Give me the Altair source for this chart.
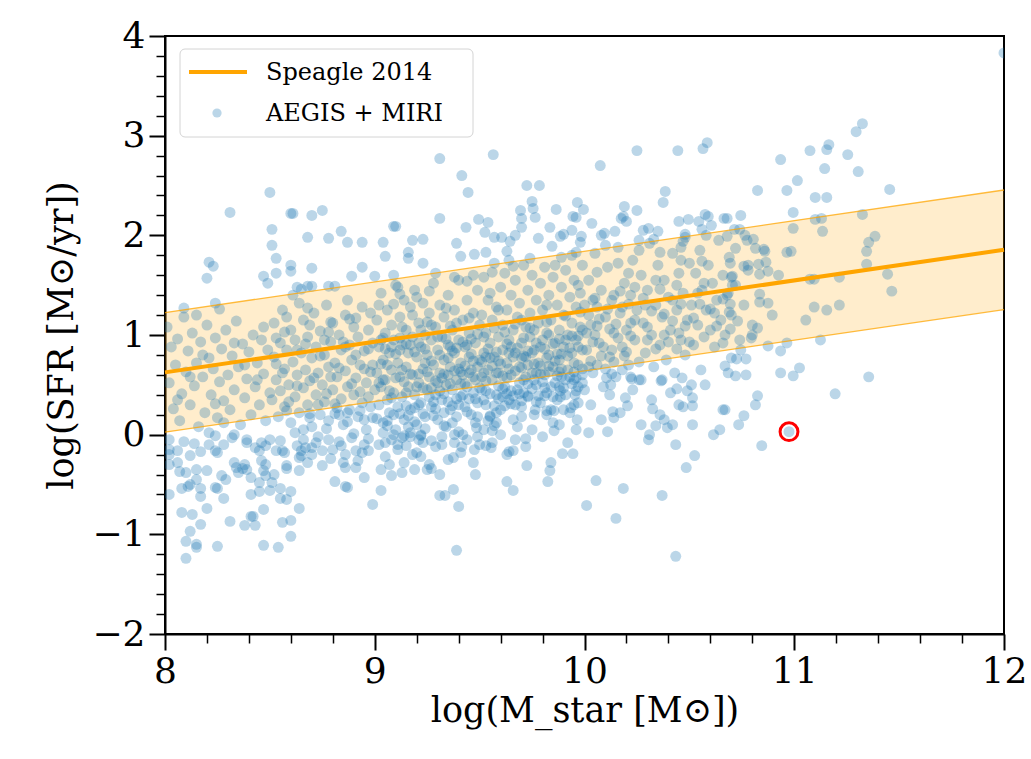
import altair as alt
import pandas as pd

# ---------------- Speagle et al. 2014 main sequence (values at log M* = 8 and 12)
speagle_mstar = [8.0, 12.0]
speagle_sfr = [0.625, 1.855]
speagle_low = [0.025, 1.255]
speagle_high = [1.225, 2.455]

# ---------------- AEGIS + MIRI galaxies (log M*, log SFR)
band_8_85 = [
    (8.01, 1.08), (8.02, 0.52), (8.03, 0.88), (8.04, 0.26), (8.05, 0.70), (8.06, 0.96), (8.07, 0.14), (8.08, 0.41),
    (8.09, 1.18), (8.10, 0.63), (8.11, 0.84), (8.12, 0.30), (8.13, 1.02), (8.14, 0.49), (8.15, 0.72), (8.16, 0.08),
    (8.17, 0.93), (8.18, 0.58), (8.19, 0.22), (8.20, 1.10), (8.21, 0.77), (8.22, 0.40), (8.23, 0.66), (8.24, 0.97),
    (8.25, 0.17), (8.26, 0.53), (8.27, 0.86), (8.28, 0.34), (8.29, 1.05), (8.30, 0.60), (8.31, 0.25), (8.32, 0.79),
    (8.33, 0.45), (8.34, 1.14), (8.35, 0.68), (8.36, 0.10), (8.37, 0.91), (8.38, 0.37), (8.39, 0.56), (8.40, 0.83),
    (8.41, 0.20), (8.42, 1.00), (8.43, 0.48), (8.44, 0.72), (8.45, 0.30), (8.46, 0.95), (8.47, 0.61), (8.48, 0.14),
    (8.49, 0.85), (8.50, 0.42), (8.12, 0.58), (8.24, 0.31), (8.33, 0.92), (8.44, 0.55), (8.06, 0.35), (8.18, 0.80),
    (8.28, 0.12), (8.38, 0.70), (8.47, 1.08), (8.15, 1.20),
]
band_85_9 = [
    (8.51, 0.35), (8.52, 0.78), (8.52, 1.12), (8.53, 0.55), (8.54, 0.18), (8.55, 0.92), (8.55, 0.44), (8.56, 1.25),
    (8.57, 0.66), (8.57, 0.28), (8.58, 0.85), (8.59, 0.50), (8.60, 1.05), (8.60, 0.12), (8.61, 0.73), (8.62, 0.38),
    (8.62, 0.95), (8.63, 0.60), (8.64, 1.32), (8.64, 0.22), (8.65, 0.82), (8.66, 0.47), (8.66, 1.15), (8.67, 0.65),
    (8.68, 0.30), (8.68, 0.98), (8.69, 0.54), (8.70, 0.08), (8.70, 0.77), (8.71, 1.22), (8.72, 0.40), (8.72, 0.88),
    (8.73, 0.62), (8.74, 0.20), (8.74, 1.04), (8.75, 0.50), (8.76, 0.80), (8.76, 0.33), (8.77, 1.30), (8.78, 0.68),
    (8.78, 0.14), (8.79, 0.93), (8.80, 0.45), (8.80, 1.12), (8.81, 0.72), (8.82, 0.27), (8.82, 0.58), (8.83, 1.00),
    (8.84, 0.36), (8.84, 0.85), (8.85, 0.10), (8.86, 0.64), (8.86, 1.20), (8.87, 0.48), (8.88, 0.90), (8.88, 0.25),
    (8.89, 0.75), (8.90, 1.08), (8.90, 0.40), (8.91, 0.57), (8.92, 0.18), (8.92, 0.98), (8.93, 0.70), (8.94, 1.28),
    (8.94, 0.32), (8.95, 0.84), (8.96, 0.52), (8.96, 0.05), (8.97, 1.05), (8.98, 0.63), (8.98, 0.28), (8.99, 0.92),
    (9.00, 0.45), (8.53, 0.97), (8.58, 0.24), (8.63, 0.85), (8.69, 1.10), (8.73, 0.30), (8.79, 0.58), (8.83, 0.20),
    (8.87, 1.35), (8.91, 0.80), (8.95, 0.15), (8.99, 0.70), (8.56, 0.62), (8.66, 0.05), (8.76, 0.95), (8.86, 0.88),
    (8.97, 0.38), (8.61, 1.40),
]
band_9_95 = [
    (9.01, 0.62), (9.01, 1.15), (9.02, 0.30), (9.02, 0.88), (9.03, 1.42), (9.03, 0.48), (9.04, 0.75), (9.04, 0.12),
    (9.05, 1.02), (9.05, 0.55), (9.06, 0.35), (9.06, 1.25), (9.07, 0.82), (9.07, 0.22), (9.08, 0.65), (9.08, 1.10),
    (9.09, 0.42), (9.09, 0.95), (9.10, 1.50), (9.10, 0.05), (9.11, 0.72), (9.11, 0.28), (9.12, 1.18), (9.12, 0.58),
    (9.13, 0.90), (9.13, 0.38), (9.14, 1.35), (9.14, 0.15), (9.15, 0.68), (9.15, 1.05), (9.16, 0.48), (9.16, 0.82),
    (9.17, 1.28), (9.17, 0.25), (9.18, 0.60), (9.18, 0.98), (9.19, 0.40), (9.19, 1.45), (9.20, 0.78), (9.20, 0.10),
    (9.21, 1.12), (9.21, 0.52), (9.22, 0.88), (9.22, 0.32), (9.23, 1.32), (9.23, 0.66), (9.24, 0.18), (9.24, 1.00),
    (9.25, 0.45), (9.25, 0.80), (9.26, 1.22), (9.26, 0.58), (9.27, 0.28), (9.27, 0.95), (9.28, 1.52), (9.28, 0.70),
    (9.29, 0.40), (9.29, 1.08), (9.30, 0.85), (9.30, 0.15), (9.31, 0.62), (9.31, 1.30), (9.32, 0.35), (9.32, 0.98),
    (9.33, 0.75), (9.33, 1.18), (9.34, 0.50), (9.34, 0.08), (9.35, 0.90), (9.35, 1.40), (9.36, 0.25), (9.36, 0.68),
    (9.37, 1.05), (9.37, 0.45), (9.38, 0.82), (9.38, 1.25), (9.39, 0.55), (9.39, 0.18), (9.40, 0.95), (9.40, 1.55),
    (9.41, 0.38), (9.41, 0.72), (9.42, 1.15), (9.42, 0.60), (9.43, 0.28), (9.43, 0.88), (9.44, 1.35), (9.44, 0.48),
    (9.45, 0.78), (9.45, 1.02), (9.46, 0.20), (9.46, 0.65), (9.47, 1.22), (9.47, 0.42), (9.48, 0.92), (9.48, 0.55),
    (9.49, 1.45), (9.49, 0.32), (9.50, 0.75), (9.50, 1.10), (9.03, 0.95), (9.06, 0.70), (9.09, 0.20), (9.12, 0.85),
    (9.15, 0.42), (9.18, 1.20), (9.21, 0.30), (9.24, 0.72), (9.27, 1.10), (9.30, 0.52), (9.33, 0.22), (9.36, 0.88),
    (9.39, 1.12), (9.42, 0.40), (9.45, 0.62), (9.48, 0.12), (9.04, 0.55), (9.08, 0.88), (9.13, 0.65), (9.17, 0.90),
    (9.22, 1.05), (9.26, 0.38), (9.31, 0.80), (9.35, 0.60), (9.40, 0.30), (9.44, 0.90), (9.49, 0.68), (9.02, 1.30),
    (9.11, 1.48), (9.20, 1.38), (9.29, 1.62), (9.38, 1.58), (9.47, 1.60),
]
below_9_95 = [
    (9.02, -0.10), (9.05, -0.22), (9.08, -0.05), (9.11, -0.15), (9.14, -0.28), (9.17, -0.02), (9.20, -0.18),
    (9.23, -0.08), (9.26, -0.30), (9.29, -0.12), (9.32, -0.02), (9.35, -0.25), (9.38, -0.08), (9.41, -0.18),
    (9.44, -0.05), (9.47, -0.28), (9.50, -0.10), (9.04, 0.02), (9.13, -0.38), (9.22, 0.00), (9.31, -0.40),
    (9.40, 0.03), (9.48, -0.40),
]
band_95_10 = [
    (9.51, 0.45), (9.51, 1.20), (9.52, 0.82), (9.52, 1.58), (9.53, 0.30), (9.53, 1.02), (9.54, 0.65), (9.54, 1.35),
    (9.55, 0.92), (9.55, 0.18), (9.56, 1.15), (9.56, 0.55), (9.57, 1.72), (9.57, 0.78), (9.58, 0.40), (9.58, 1.28),
    (9.59, 0.98), (9.59, 0.62), (9.60, 1.48), (9.60, 0.25), (9.61, 0.85), (9.61, 1.10), (9.62, 0.48), (9.62, 1.62),
    (9.63, 0.72), (9.63, 1.25), (9.64, 0.35), (9.64, 0.95), (9.65, 1.40), (9.65, 0.60), (9.66, 1.05), (9.66, 0.15),
    (9.67, 0.82), (9.67, 1.55), (9.68, 0.45), (9.68, 1.18), (9.69, 0.68), (9.69, 1.32), (9.70, 0.92), (9.70, 0.28),
    (9.71, 1.70), (9.71, 0.55), (9.72, 1.08), (9.72, 0.78), (9.73, 1.45), (9.73, 0.38), (9.74, 0.98), (9.74, 1.22),
    (9.75, 0.62), (9.75, 1.60), (9.76, 0.20), (9.76, 0.85), (9.77, 1.35), (9.77, 0.50), (9.78, 1.12), (9.78, 0.72),
    (9.79, 1.52), (9.79, 0.32), (9.80, 0.95), (9.80, 1.25), (9.81, 0.60), (9.81, 1.68), (9.82, 0.42), (9.82, 1.02),
    (9.83, 0.80), (9.83, 1.40), (9.84, 0.25), (9.84, 1.15), (9.85, 0.68), (9.85, 1.58), (9.86, 0.52), (9.86, 0.92),
    (9.87, 1.30), (9.87, 0.35), (9.88, 1.05), (9.88, 0.75), (9.89, 1.48), (9.89, 0.58), (9.90, 1.20), (9.90, 0.88),
    (9.91, 0.40), (9.91, 1.65), (9.92, 1.00), (9.92, 0.65), (9.93, 1.38), (9.93, 0.22), (9.94, 0.82), (9.94, 1.12),
    (9.95, 0.55), (9.95, 1.55), (9.96, 0.95), (9.96, 1.28), (9.97, 0.70), (9.97, 0.32), (9.98, 1.42), (9.98, 1.08),
    (9.99, 0.60), (9.99, 0.85), (10.00, 1.30), (10.00, 0.45), (9.52, 0.62), (9.55, 1.42), (9.58, 0.12), (9.61, 0.38),
    (9.64, 1.75), (9.67, 0.30), (9.70, 1.15), (9.73, 0.70), (9.76, 1.05), (9.79, 0.88), (9.82, 1.30), (9.85, 0.12),
    (9.88, 0.48), (9.91, 0.95), (9.94, 1.80), (9.97, 1.50), (9.53, 0.78), (9.59, 1.25), (9.65, 0.88), (9.71, 0.42),
    (9.77, 0.62), (9.83, 1.00), (9.89, 1.78), (9.95, 0.30), (9.99, 1.70),
]
core_extra = [
    (9.03, 0.71), (9.07, 0.44), (9.09, 1.31), (9.12, 0.97), (9.14, 0.53), (9.16, 0.19), (9.19, 0.83), (9.21, 0.61),
    (9.23, 0.47), (9.25, 1.13), (9.27, 0.74), (9.28, 0.33), (9.30, 0.98), (9.32, 0.57), (9.33, 0.41), (9.35, 0.77),
    (9.36, 1.09), (9.37, 0.29), (9.38, 0.64), (9.39, 0.87), (9.41, 0.51), (9.42, 0.93), (9.43, 0.69), (9.44, 0.23),
    (9.45, 1.17), (9.46, 0.81), (9.47, 0.58), (9.48, 0.36), (9.49, 1.01), (9.50, 0.47), (9.51, 0.73), (9.52, 0.98),
    (9.53, 0.54), (9.54, 0.86), (9.55, 0.41), (9.56, 0.69), (9.57, 1.07), (9.58, 0.83), (9.59, 0.49), (9.60, 0.71),
    (9.61, 0.59), (9.62, 1.03), (9.63, 0.91), (9.64, 0.66), (9.65, 0.44), (9.66, 0.78), (9.67, 1.11), (9.68, 0.87),
    (9.69, 0.52), (9.70, 0.67), (9.71, 0.97), (9.72, 0.58), (9.73, 0.84), (9.74, 1.07), (9.75, 0.46), (9.76, 0.71),
    (9.77, 0.92), (9.78, 0.39), (9.79, 0.69), (9.80, 0.53), (9.81, 0.86), (9.82, 1.13), (9.83, 0.63), (9.84, 0.48),
    (9.85, 0.91), (9.86, 0.74), (9.87, 0.59), (9.88, 0.96), (9.89, 0.81), (9.90, 0.47), (9.91, 1.19), (9.92, 0.79),
    (9.93, 0.58), (9.94, 0.99), (9.95, 0.72), (9.96, 0.44), (9.97, 0.88), (9.98, 1.23), (9.99, 0.66), (10.01, 1.02),
    (10.03, 0.74), (10.05, 1.37), (10.07, 1.16), (10.09, 0.88), (10.11, 1.26), (10.13, 0.61), (10.15, 1.11),
    (10.17, 1.44), (10.19, 0.79), (10.21, 1.31), (9.05, 0.86), (9.10, 0.57), (9.15, 0.91), (9.20, 0.48), (9.24, 0.86),
    (9.29, 0.54), (9.34, 0.96), (9.40, 0.66), (9.46, 0.96), (9.52, 0.35), (9.58, 0.62), (9.64, 0.82), (9.70, 0.77),
    (9.76, 0.55), (9.82, 0.77), (9.88, 0.63), (9.94, 0.51), (9.99, 1.05), (9.36, 0.51), (9.62, 0.29),
]
band_fill = [
    (8.53, 0.71), (8.57, 1.03), (8.59, 0.33), (8.63, 0.49), (8.67, 0.91), (8.69, 0.21), (8.71, 0.57), (8.74, 0.79),
    (8.77, 0.41), (8.79, 1.13), (8.81, 0.31), (8.83, 0.67), (8.85, 0.93), (8.87, 0.22), (8.89, 0.51), (8.91, 1.17),
    (8.93, 0.43), (8.95, 0.66), (8.97, 0.86), (8.99, 0.17), (9.02, 0.52), (9.04, 0.97), (9.06, 0.14), (9.08, 0.37),
    (9.10, 0.81), (9.13, 1.08), (9.15, 0.29), (9.17, 0.61), (9.19, 0.13), (9.21, 0.92), (9.23, 0.21), (9.25, 0.63),
    (9.27, 0.47), (9.29, 0.26), (9.31, 0.44), (9.33, 0.61), (9.35, 0.33), (9.37, 0.84), (9.39, 0.36), (9.41, 0.63),
    (9.43, 0.51), (9.45, 0.36), (9.47, 0.74), (9.49, 0.18), (9.51, 0.58), (9.53, 0.44), (9.55, 0.77), (9.57, 0.29),
    (9.59, 0.74), (9.61, 0.46), (9.63, 0.57), (9.65, 0.31), (9.67, 0.64), (9.69, 0.41), (9.71, 0.79), (9.73, 0.51),
    (9.75, 0.82), (9.77, 0.33), (9.79, 0.61), (9.81, 0.47), (9.83, 0.69), (9.85, 0.38), (9.87, 0.81), (9.89, 0.66),
    (9.91, 0.55), (9.93, 0.87), (9.95, 0.63), (9.97, 0.99), (9.99, 0.52), (10.02, 0.68), (10.04, 0.93), (10.06, 1.09),
    (10.08, 0.79), (10.10, 0.66), (10.12, 1.06), (10.14, 0.73), (10.16, 0.97), (10.18, 1.28), (10.20, 0.83),
    (10.22, 0.99), (10.24, 1.15), (10.26, 0.73), (10.28, 1.37), (10.30, 1.08), (10.32, 1.24), (10.34, 0.86),
    (10.36, 1.46), (10.38, 1.21), (10.40, 0.93), (10.42, 1.14), (10.44, 0.86), (10.46, 1.31), (10.48, 1.09),
    (10.50, 0.93), (10.52, 1.17), (10.55, 1.31), (10.57, 1.52), (10.60, 1.26), (10.63, 1.09), (10.66, 1.36),
    (9.12, 1.41), (9.26, 1.44), (9.34, 1.27), (9.44, 1.54), (9.56, 1.63), (9.66, 1.69), (9.74, 1.77), (9.86, 1.70),
    (9.96, 1.83), (10.06, 1.63), (10.16, 1.72), (10.26, 1.95), (10.36, 1.83), (10.46, 1.88), (10.56, 1.74),
    (8.58, 1.18), (8.68, 1.27), (8.78, 1.03), (8.88, 1.16), (8.98, 1.22),
]
below_95_10 = [
    (9.52, 0.05), (9.56, -0.08), (9.60, 0.00), (9.63, -0.20), (9.68, 0.08), (9.72, -0.12), (9.75, 0.05),
    (9.80, -0.02), (9.84, -0.28), (9.88, 0.10), (9.92, -0.08), (9.96, 0.05), (9.58, 0.22), (9.70, 0.18),
    (9.82, 0.20), (9.90, 0.25),
]
below_86_94 = [
    (8.62, 0.02), (8.66, -0.05), (8.69, 0.17), (8.73, -0.02), (8.77, 0.06), (8.81, 0.21), (8.83, -0.07),
    (8.87, 0.13), (8.90, 0.01), (8.93, 0.24), (8.97, -0.04), (9.01, 0.16), (9.06, 0.09), (9.12, 0.21), (9.16, 0.08),
    (9.19, 0.27), (9.24, 0.06), (9.28, 0.19), (9.33, 0.09), (9.37, 0.12), (8.68, -0.28), (8.79, -0.24),
    (8.92, -0.26), (9.07, -0.30), (9.19, -0.35),
]
band_10_105 = [
    (10.01, 0.85), (10.02, 1.55), (10.03, 1.10), (10.04, 0.62), (10.05, 1.82), (10.06, 1.28), (10.07, 0.92),
    (10.08, 1.45), (10.09, 0.48), (10.10, 1.18), (10.11, 1.68), (10.12, 0.78), (10.13, 1.35), (10.14, 1.02),
    (10.15, 0.58), (10.16, 1.88), (10.17, 1.22), (10.18, 0.88), (10.19, 1.52), (10.20, 1.05), (10.21, 0.70),
    (10.22, 1.40), (10.23, 1.75), (10.24, 0.95), (10.25, 1.25), (10.26, 0.55), (10.27, 1.60), (10.28, 1.12),
    (10.29, 0.82), (10.30, 1.45), (10.31, 1.92), (10.32, 1.00), (10.33, 0.68), (10.34, 1.30), (10.35, 1.70),
    (10.36, 0.90), (10.37, 1.18), (10.38, 1.55), (10.39, 0.75), (10.40, 1.38), (10.41, 1.05), (10.42, 1.82),
    (10.43, 0.62), (10.44, 1.25), (10.45, 1.62), (10.46, 0.95), (10.47, 1.42), (10.48, 0.80), (10.49, 1.15),
    (10.50, 1.72), (10.02, 1.20), (10.06, 0.70), (10.10, 1.90), (10.14, 1.40), (10.18, 0.65), (10.22, 1.12),
    (10.26, 1.85), (10.30, 0.95), (10.34, 1.55), (10.38, 1.00), (10.42, 1.35), (10.46, 1.75), (10.05, 1.00),
    (10.13, 0.85), (10.21, 1.62), (10.29, 1.30), (10.37, 0.55), (10.45, 1.02), (10.04, 1.35), (10.24, 1.48),
    (10.44, 1.50), (10.08, 2.00), (10.28, 2.05), (10.48, 1.98),
]
below_10_105 = [
    (10.03, 0.30), (10.08, 0.15), (10.12, 0.40), (10.17, 0.22), (10.23, 0.45), (10.27, 0.10), (10.32, 0.35),
    (10.36, 0.20), (10.41, 0.42), (10.47, 0.28),
]
band_105_108 = [
    (10.51, 1.30), (10.52, 0.90), (10.53, 1.62), (10.54, 1.10), (10.55, 1.85), (10.56, 1.45), (10.57, 0.98),
    (10.58, 1.25), (10.59, 1.70), (10.60, 1.05), (10.61, 1.52), (10.62, 0.88), (10.63, 1.35), (10.64, 1.95),
    (10.65, 1.15), (10.66, 1.60), (10.67, 1.00), (10.68, 1.40), (10.69, 1.78), (10.70, 1.20), (10.72, 1.50),
    (10.74, 0.95), (10.76, 1.30), (10.78, 1.65), (10.80, 1.10), (10.54, 1.42), (10.58, 2.00), (10.62, 1.22),
    (10.66, 0.92), (10.70, 1.58),
]
above_low_mass = [
    (9.31, 2.77), (8.50, 2.43), (8.31, 2.23), (8.60, 2.22), (8.61, 2.22), (8.70, 2.20), (8.75, 2.25), (8.51, 2.06),
    (8.84, 2.04), (9.09, 2.09), (9.10, 2.09), (9.31, 2.17), (8.68, 1.98), (8.78, 1.97), (8.87, 1.93), (8.94, 1.93),
    (9.04, 1.93), (9.18, 1.95), (9.23, 1.96), (8.51, 1.90), (9.05, 1.79), (8.53, 1.77), (9.16, 1.83), (9.16, 1.77),
    (9.23, 1.72), (8.21, 1.73), (8.23, 1.69), (8.20, 1.57), (8.47, 1.59), (8.49, 1.52), (8.53, 1.62), (8.60, 1.70),
    (8.60, 1.64), (8.70, 1.67), (8.94, 1.68), (8.89, 1.59), (9.00, 1.59), (9.09, 1.60), (8.63, 1.48), (8.65, 1.46),
    (8.68, 1.49), (8.70, 1.49), (8.78, 1.49), (8.81, 1.49), (8.09, 1.27), (8.24, 1.32), (8.26, 1.26),
]
above_mid_mass = [
    (10.25, 2.85), (10.445, 2.85), (10.565, 2.87), (10.585, 2.93), (9.565, 2.81), (10.075, 2.70), (9.415, 2.60),
    (9.445, 2.43), (9.725, 2.50), (9.785, 2.50), (10.385, 2.44), (10.375, 2.33), (9.75, 2.34), (9.755, 2.27),
    (9.695, 2.25), (9.765, 2.18), (9.70, 2.17), (9.70, 2.08), (9.865, 2.26), (9.966, 2.33), (9.995, 2.26),
    (9.945, 2.19), (9.96, 2.18), (10.19, 2.29), (10.25, 2.25), (10.185, 2.19), (10.20, 2.14), (10.175, 2.17),
    (9.495, 2.16), (9.54, 2.13), (9.435, 2.08), (9.525, 2.03), (9.57, 1.98), (9.605, 1.98), (9.645, 1.94),
    (9.67, 2.00), (9.63, 1.84), (9.835, 2.08), (9.78, 1.97), (9.845, 1.89), (9.90, 2.01), (9.885, 1.99),
    (9.94, 2.05), (9.985, 1.99), (9.98, 1.93), (10.035, 2.12), (10.095, 2.02), (10.145, 2.04), (10.305, 2.07),
    (10.35, 2.04), (10.33, 1.96), (10.45, 2.14), (10.495, 2.16), (10.545, 2.14), (10.575, 2.21), (10.59, 2.19),
    (10.605, 2.10), (10.665, 2.17), (10.48, 2.01), (10.47, 1.94), (10.56, 2.06), (9.39, 1.92), (9.41, 1.79),
    (9.475, 1.81), (9.53, 1.83),
]
high_mass = [
    (12.0, 3.83), (11.325, 3.12), (11.295, 3.04), (11.165, 2.91), (11.155, 2.86), (11.075, 2.85), (11.255, 2.81),
    (10.935, 2.76), (11.145, 2.67), (11.305, 2.64), (11.015, 2.55), (10.825, 2.45), (10.965, 2.45), (11.10, 2.38),
    (11.155, 2.38), (11.455, 2.46), (10.995, 2.23), (10.68, 2.17), (10.745, 2.20), (11.10, 2.16), (11.13, 2.17),
    (11.325, 2.21), (10.995, 2.07), (11.135, 2.04), (11.385, 1.99), (11.355, 1.93), (11.345, 1.84), (11.345, 1.71),
    (11.445, 1.61), (11.465, 1.44), (10.965, 1.83), (10.985, 1.84), (11.075, 1.56), (11.095, 1.56), (11.215, 1.58),
    (11.095, 1.28), (11.155, 1.25), (11.215, 1.30), (11.055, 1.15), (10.895, 1.20), (10.825, 1.07), (10.925, 1.60),
    (10.83, 1.71), (10.835, 1.61), (10.865, 1.73), (10.875, 1.64), (10.835, 1.41), (10.835, 1.33), (10.875, 1.32),
    (10.715, 2.06), (10.74, 2.06), (10.765, 2.00), (10.775, 1.95), (10.805, 1.96), (10.815, 1.87), (10.855, 1.86),
    (10.86, 1.84), (10.72, 1.87), (10.695, 1.72), (10.76, 1.69), (10.78, 1.70), (10.705, 1.59), (10.705, 1.50),
    (10.685, 1.42), (10.695, 1.31), (10.69, 1.23), (10.73, 1.14), (10.695, 1.06), (10.80, 1.00), (10.68, 1.99),
]
below_low_mass = [
    (8.10, -1.24), (8.10, -1.07), (8.15, -1.10), (8.15, -1.13), (8.12, -0.97), (8.17, -0.90), (8.08, -0.78),
    (8.13, -0.80), (8.20, -0.74), (8.25, -1.12), (8.31, -0.87), (8.38, -0.91), (8.41, -0.82), (8.43, -0.91),
    (8.42, -0.82), (8.47, -0.75), (8.47, -1.11), (8.54, -1.13), (8.56, -0.88), (8.60, -0.86), (8.60, -1.02),
    (8.64, -0.74), (8.02, -0.60), (8.08, -0.54), (8.11, -0.52), (8.17, -0.62), (8.17, -0.54), (8.24, -0.53),
    (8.25, -0.54), (8.28, -0.64), (8.41, -0.60), (8.45, -0.57), (8.50, -0.56), (8.51, -0.48), (8.55, -0.54),
    (8.55, -0.64), (8.58, -0.65), (8.60, -0.57), (8.15, -0.45), (8.12, -0.50), (8.07, -0.37), (8.10, -0.38),
    (8.02, -0.30), (8.06, -0.28), (8.15, -0.35), (8.20, -0.36), (8.29, -0.45), (8.27, -0.41), (8.33, -0.28),
    (8.34, -0.33), (8.37, -0.34), (8.39, -0.35), (8.35, -0.38), (8.38, -0.30), (8.41, -0.43), (8.45, -0.48),
    (8.47, -0.36), (8.48, -0.41), (8.52, -0.40), (8.46, -0.26), (8.48, -0.30), (8.58, -0.31), (8.58, -0.34),
    (8.64, -0.36), (8.75, -0.31), (8.81, -0.47), (8.86, -0.52), (8.87, -0.53), (8.64, -0.23), (8.65, -0.21),
    (8.70, -0.20), (8.85, -0.28), (8.86, -0.33), (8.91, -0.33), (8.94, -0.18), (8.95, -0.43), (8.99, -0.70),
    (9.03, -0.56), (9.03, -0.35), (9.08, -0.41), (9.18, -0.20), (9.22, -0.22), (9.25, -0.35), (9.27, -0.34),
    (9.31, -0.61), (8.02, -0.15), (8.06, -0.16), (8.02, -0.20), (8.02, -0.05), (8.09, -0.07), (8.14, -0.09),
    (8.12, -0.21), (8.17, -0.17), (8.21, -0.10), (8.24, -0.16), (8.25, -0.18), (8.28, -0.10), (8.21, 0.02),
    (8.24, -0.01), (8.32, -0.03), (8.33, 0.00), (8.39, -0.08), (8.43, -0.13), (8.39, -0.05), (8.45, -0.16),
    (8.46, -0.08), (8.48, -0.11), (8.50, -0.05), (8.53, -0.16), (8.56, -0.16), (8.57, -0.18), (8.55, -0.06),
    (8.63, -0.11), (8.65, -0.16), (8.67, -0.13), (8.70, -0.13), (8.72, -0.08), (8.75, -0.16), (8.78, -0.05),
    (8.80, -0.15), (8.84, -0.11), (8.86, -0.20), (8.89, -0.03), (8.91, -0.16), (8.95, -0.10), (8.97, -0.16),
    (9.05, -0.08), (9.09, 0.00), (9.11, -0.10), (9.13, -0.03), (9.14, -0.01), (9.17, 0.02), (9.15, -0.11),
    (9.21, -0.05), (9.22, -0.01), (9.27, -0.06), (9.32, -0.10),
]
below_mid_mass = [
    (9.39, -1.16), (10.435, -1.22), (10.15, -0.84), (10.01, -0.71), (10.37, -0.61), (9.40, -0.72), (9.375, -0.55),
    (9.63, -0.47), (9.66, -0.56), (9.825, -0.47), (9.835, -0.36), (10.055, -0.46), (10.185, -0.54), (9.725, -0.31),
    (10.485, -0.33), (10.525, -0.21), (9.895, -0.19), (9.945, -0.19), (9.64, -0.17), (9.66, -0.16), (9.375, -0.23),
    (9.335, -0.61), (9.415, -0.12), (9.475, -0.15), (9.53, -0.11), (9.555, -0.13), (9.67, -0.05), (9.72, -0.04),
    (9.855, 0.04), (10.02, 0.02), (10.11, 0.03), (10.305, -0.05), (10.31, 0.00), (10.34, 0.09), (10.38, 0.15),
    (10.395, 0.07), (10.42, 0.10), (10.435, -0.10), (10.515, 0.10), (10.615, 0.00), (10.645, 0.05), (10.66, 0.25),
    (9.49, -0.02), (9.42, 0.00), (9.38, 0.00), (9.485, 0.07), (9.56, 0.04), (9.57, 0.09), (9.54, 0.14), (9.55, 0.19),
    (9.855, 0.24), (9.82, 0.24), (9.935, 0.27), (9.965, 0.15), (10.135, 0.23), (10.14, 0.17), (10.205, 0.29),
    (10.195, 0.37), (10.325, 0.26), (10.45, 0.30), (10.515, 0.29), (10.515, 0.37), (10.49, 0.44), (10.44, 0.46),
    (10.465, 0.57), (10.51, 0.50), (10.575, 0.50), (10.555, 0.65), (10.27, 0.55), (10.365, 0.54), (10.22, 0.58),
    (10.225, 0.56), (10.125, 0.50), (10.105, 0.57), (9.96, 0.57), (9.97, 0.48), (9.955, 0.40), (9.885, 0.44),
    (9.885, 0.38), (9.81, 0.39), (9.765, 0.25), (9.73, 0.39), (9.70, 0.34), (9.66, 0.39), (9.63, 0.41), (9.59, 0.36),
]
below_high_mass = [
    (10.975, 0.03), (10.845, -0.11), (10.735, 0.10), (10.76, 0.19), (10.815, 0.30), (10.825, 0.39), (10.67, 0.25),
    (11.195, 0.41), (11.355, 0.58), (10.935, 0.62), (10.995, 0.59), (11.025, 0.67), (10.77, 0.60), (10.72, 0.59),
    (10.685, 0.62), (10.70, 0.77), (10.725, 0.76), (10.77, 0.76), (10.67, 0.69), (10.745, 0.85), (10.875, 0.89),
    (10.935, 0.84), (10.965, 0.92), (11.125, 0.95), (10.795, 0.97),
]

# highlighted galaxy (red ring)
highlight_mstar = [10.975]
highlight_sfr = [0.03]

legend_labels = ["Speagle 2014", "AEGIS + MIRI"]

# ---------------- tables
groups = [band_8_85, band_85_9, band_9_95, below_9_95, band_95_10, core_extra, band_fill, below_95_10,
          below_86_94, band_10_105, below_10_105, band_105_108, above_low_mass, above_mid_mass, high_mass,
          below_low_mass, below_mid_mass, below_high_mass]
points = pd.DataFrame([p for g in groups for p in g], columns=["mstar", "sfr"])
speagle = pd.DataFrame({"mstar": speagle_mstar, "mid": speagle_sfr,
                        "low": speagle_low, "high": speagle_high})
highlight = pd.DataFrame({"mstar": highlight_mstar, "sfr": highlight_sfr})

FONT = "DejaVu Serif"
ORANGE = "#ffa500"
BLUE = "#1f77b4"

x_ticks = [round(8 + 0.2 * i, 1) for i in range(21)]
y_ticks = [round(-2 + 0.2 * i, 1) for i in range(31)]
major = "abs(datum.value - round(datum.value)) < 0.01"


def make_axis(title, values, title_pad):
    return alt.Axis(
        title=title, values=values, tickCount=200,
        labelExpr=f"{major} ? format(datum.value, 'd') : ''",
        tickSize={"condition": {"test": major, "value": 16}, "value": 9},
        tickWidth={"condition": {"test": major, "value": 2}, "value": 1.5},
        tickColor="black", domainColor="black", domainWidth=2, grid=False,
        labelFont=FONT, labelFontSize=36, labelColor="black", labelPadding=4,
        labelOverlap=False, labelFlush=False,
        titleFont=FONT, titleFontSize=35, titleFontWeight="normal", titleColor="black",
        titlePadding=title_pad,
    )


x_enc = alt.X("mstar:Q", scale=alt.Scale(domain=[8, 12], nice=False, zero=False),
              axis=make_axis("log(M_star [M\u2299])", x_ticks, 4))
y_scale = alt.Scale(domain=[-2, 4], nice=False, zero=False)

band = alt.Chart(speagle).mark_area(color=ORANGE, opacity=0.2).encode(
    x=x_enc,
    y=alt.Y("low:Q", scale=y_scale, axis=make_axis("log(SFR [M\u2299/yr])", y_ticks, 12)),
    y2="high:Q",
)
dots = alt.Chart(points).mark_circle(size=120, color=BLUE, opacity=0.3, clip=True).encode(
    x="mstar:Q", y="sfr:Q")
ring = alt.Chart(highlight).mark_point(shape="circle", filled=False, color="red",
                                       strokeWidth=3, size=320, opacity=1).encode(
    x="mstar:Q", y="sfr:Q")
edge_low = alt.Chart(speagle).mark_line(color=ORANGE, strokeWidth=1.3, opacity=0.75).encode(
    x="mstar:Q", y="low:Q")
edge_high = alt.Chart(speagle).mark_line(color=ORANGE, strokeWidth=1.3, opacity=0.75).encode(
    x="mstar:Q", y="high:Q")
mid = alt.Chart(speagle).mark_line(color=ORANGE, strokeWidth=4).encode(x="mstar:Q", y="mid:Q")

# ---------------- legend (box + entries)
leg_box = alt.Chart(pd.DataFrame({"k": [0]})).mark_rect(
    fill="white", fillOpacity=0.85, stroke="#d4d4d4", strokeWidth=1, cornerRadius=5).encode(
    x=alt.value(15), x2=alt.value(308), y=alt.value(13), y2=alt.value(101))
leg_line = alt.Chart(pd.DataFrame({"k": [0]})).mark_rule(color=ORANGE, strokeWidth=4).encode(
    x=alt.value(24), x2=alt.value(82), y=alt.value(36))
leg_dot = alt.Chart(pd.DataFrame({"k": [0]})).mark_circle(color=BLUE, opacity=0.3, size=85).encode(
    x=alt.value(52), y=alt.value(77))
leg_t1 = alt.Chart(pd.DataFrame({"label": [legend_labels[0]]})).mark_text(
    font=FONT, fontSize=24, align="left", baseline="middle", color="black").encode(
    text="label:N", x=alt.value(101), y=alt.value(37))
leg_t2 = alt.Chart(pd.DataFrame({"label": [legend_labels[1]]})).mark_text(
    font=FONT, fontSize=24, align="left", baseline="middle", color="black").encode(
    text="label:N", x=alt.value(101), y=alt.value(78))

chart = alt.layer(band, dots, ring, edge_low, edge_high, mid,
                  leg_box, leg_line, leg_dot, leg_t1, leg_t2).properties(
    width=839, height=598,
    autosize=alt.AutoSizeParams(type="none"),
    padding={"left": 165, "top": 36, "right": 27, "bottom": 125},
    background="white",
).configure_view(stroke="black", strokeWidth=2)

chart.save("out.html", embed_options={"renderer": "svg", "actions": False})
